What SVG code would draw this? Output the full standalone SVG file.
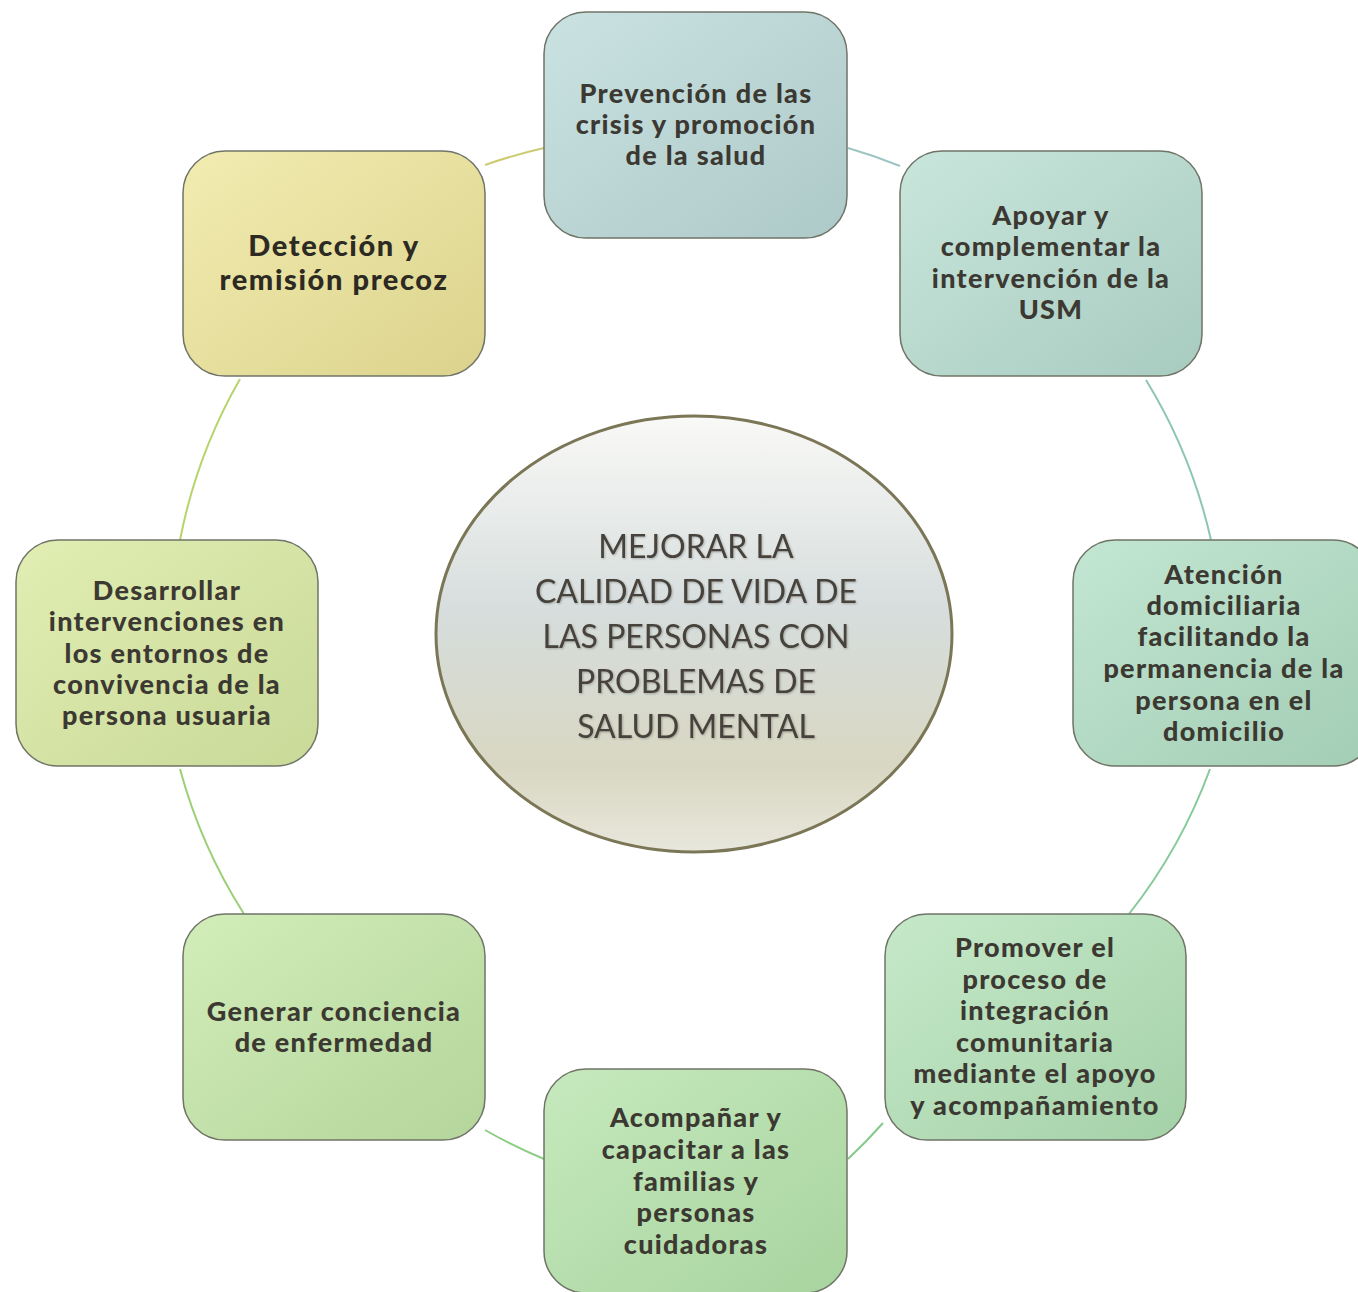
<svg xmlns="http://www.w3.org/2000/svg" width="1358" height="1292" viewBox="0 0 1358 1292">
<defs>
<linearGradient id="gTop" x1="0" y1="0" x2="1" y2="1"><stop offset="0" stop-color="#cae2e2"/><stop offset="1" stop-color="#adc9c8"/></linearGradient>
<linearGradient id="gTR" x1="0" y1="0" x2="1" y2="1"><stop offset="0" stop-color="#c9e6dc"/><stop offset="1" stop-color="#a8cbc0"/></linearGradient>
<linearGradient id="gR" x1="0" y1="0" x2="1" y2="1"><stop offset="0" stop-color="#c2e6d2"/><stop offset="1" stop-color="#a3cdb4"/></linearGradient>
<linearGradient id="gBR" x1="0" y1="0" x2="1" y2="1"><stop offset="0" stop-color="#c6e9c9"/><stop offset="1" stop-color="#a4d1a8"/></linearGradient>
<linearGradient id="gB" x1="0" y1="0" x2="1" y2="1"><stop offset="0" stop-color="#c6e9bd"/><stop offset="1" stop-color="#a8d49f"/></linearGradient>
<linearGradient id="gBL" x1="0" y1="0" x2="1" y2="1"><stop offset="0" stop-color="#d2edb9"/><stop offset="1" stop-color="#b4d59b"/></linearGradient>
<linearGradient id="gL" x1="0" y1="0" x2="1" y2="1"><stop offset="0" stop-color="#e2eeb3"/><stop offset="1" stop-color="#c8d998"/></linearGradient>
<linearGradient id="gTL" x1="0" y1="0" x2="1" y2="1"><stop offset="0" stop-color="#f2ecb1"/><stop offset="1" stop-color="#dbd38c"/></linearGradient>
<linearGradient id="gC" x1="0" y1="0" x2="0" y2="1"><stop offset="0" stop-color="#f9f9f7"/><stop offset="0.45" stop-color="#d6dddc"/><stop offset="0.8" stop-color="#d8d7c2"/><stop offset="1" stop-color="#e8e7dc"/></linearGradient>
<filter id="sh" x="-5%" y="-5%" width="110%" height="110%"><feGaussianBlur in="SourceAlpha" stdDeviation="0.8"/><feOffset dx="1" dy="1"/><feComponentTransfer><feFuncA type="linear" slope="0.25"/></feComponentTransfer><feMerge><feMergeNode/><feMergeNode in="SourceGraphic"/></feMerge></filter>
</defs>
<style>
.box{stroke:#6f7467;stroke-width:1.5}
.t{font-family:"Lato","DejaVu Sans",sans-serif;font-weight:900;font-size:27px;fill:#3c3832;text-anchor:middle;letter-spacing:1.3px}
.tl{font-size:29px;fill:#2c2a22;letter-spacing:1.6px}
.c{font-family:"Lato","DejaVu Sans",sans-serif;font-size:32px;fill:#46423b;text-anchor:middle;letter-spacing:0px}
.con{fill:none;stroke-width:2}
</style>
<rect width="1358" height="1292" fill="#ffffff"/>
<g id="connectors">
<path class="con" stroke="#cdcb72" d="M485,165 A527,527 0 0 1 544,148"/>
<path class="con" stroke="#9ec4c3" d="M848,148 A527,527 0 0 1 900,166"/>
<path class="con" stroke="#8dc6b4" d="M1146,380 A527,527 0 0 1 1211,540"/>
<path class="con" stroke="#86c99a" d="M1210,769 A527,527 0 0 1 1129,914"/>
<path class="con" stroke="#86c98a" d="M883,1123 A527,527 0 0 1 848,1159"/>
<path class="con" stroke="#8dcd84" d="M544,1159 A527,527 0 0 1 485,1130"/>
<path class="con" stroke="#9ccf78" d="M244,914 A527,527 0 0 1 180,769"/>
<path class="con" stroke="#b7d46c" d="M180,540 A527,527 0 0 1 240,379"/>
</g>
<g id="center">
<ellipse cx="694" cy="634" rx="258" ry="218" fill="url(#gC)" stroke="#7a7656" stroke-width="3"/>
<g filter="url(#sh)">
<text class="c" x="696" y="558">MEJORAR LA</text>
<text class="c" x="696" y="603">CALIDAD DE VIDA DE</text>
<text class="c" x="696" y="648">LAS PERSONAS CON</text>
<text class="c" x="696" y="693">PROBLEMAS DE</text>
<text class="c" x="696" y="738">SALUD MENTAL</text>
</g>
</g>
<g id="n-top">
<rect class="box" x="544" y="12" width="303" height="226" rx="42" fill="url(#gTop)"/>
<text class="t" x="696" y="103">Prevención de las</text>
<text class="t" x="696" y="134">crisis y promoción</text>
<text class="t" x="696" y="165">de la salud</text>
</g>
<g id="n-topright">
<rect class="box" x="900" y="151" width="302" height="225" rx="42" fill="url(#gTR)"/>
<text class="t" x="1051" y="225">Apoyar y</text>
<text class="t" x="1051" y="256">complementar la</text>
<text class="t" x="1051" y="288">intervención de la</text>
<text class="t" x="1051" y="319">USM</text>
</g>
<g id="n-right">
<rect class="box" x="1073" y="540" width="302" height="226" rx="42" fill="url(#gR)"/>
<text class="t" x="1224" y="584">Atención</text>
<text class="t" x="1224" y="615">domiciliaria</text>
<text class="t" x="1224" y="646">facilitando la</text>
<text class="t" x="1224" y="678">permanencia de la</text>
<text class="t" x="1224" y="710">persona en el</text>
<text class="t" x="1224" y="741">domicilio</text>
</g>
<g id="n-bottomright">
<rect class="box" x="885" y="914" width="301" height="226" rx="42" fill="url(#gBR)"/>
<text class="t" x="1035" y="957">Promover el</text>
<text class="t" x="1035" y="989">proceso de</text>
<text class="t" x="1035" y="1020">integración</text>
<text class="t" x="1035" y="1052">comunitaria</text>
<text class="t" x="1035" y="1083">mediante el apoyo</text>
<text class="t" x="1035" y="1115">y acompañamiento</text>
</g>
<g id="n-bottom">
<rect class="box" x="544" y="1069" width="303" height="224" rx="42" fill="url(#gB)"/>
<text class="t" x="696" y="1127">Acompañar y</text>
<text class="t" x="696" y="1159">capacitar a las</text>
<text class="t" x="696" y="1191">familias y</text>
<text class="t" x="696" y="1222">personas</text>
<text class="t" x="696" y="1254">cuidadoras</text>
</g>
<g id="n-bottomleft">
<rect class="box" x="183" y="914" width="302" height="226" rx="42" fill="url(#gBL)"/>
<text class="t" x="334" y="1021">Generar conciencia</text>
<text class="t" x="334" y="1052">de enfermedad</text>
</g>
<g id="n-left">
<rect class="box" x="16" y="540" width="302" height="226" rx="42" fill="url(#gL)"/>
<text class="t" x="167" y="600">Desarrollar</text>
<text class="t" x="167" y="631">intervenciones en</text>
<text class="t" x="167" y="663">los entornos de</text>
<text class="t" x="167" y="694">convivencia de la</text>
<text class="t" x="167" y="725">persona usuaria</text>
</g>
<g id="n-topleft">
<rect class="box" x="183" y="151" width="302" height="225" rx="42" fill="url(#gTL)"/>
<text class="t tl" x="334" y="256">Detección y</text>
<text class="t tl" x="334" y="290">remisión precoz</text>
</g>
</svg>
